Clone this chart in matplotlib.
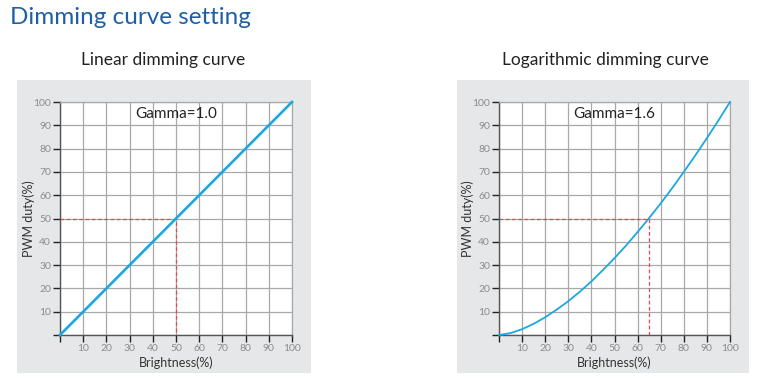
import matplotlib.pyplot as plt
from matplotlib.patches import Rectangle

# brightness (%) vs PWM duty (%)
lin_x = [0, 100]
lin_y = [0, 100]

log_x = [0, 5, 10, 15, 20, 25, 30, 35, 40, 45, 50, 55, 60, 65, 70, 75, 80, 85, 90, 95, 100]
log_y = [0, 0.8, 2.5, 4.8, 7.6, 10.9, 14.5, 18.6, 23, 27.9, 33, 38.4, 44.2, 50.2, 56.5, 63.1, 70, 77.1, 84.5, 92.1, 100]

ticks = [0, 10, 20, 30, 40, 50, 60, 70, 80, 90, 100]
tick_labels = [""] + [str(t) for t in ticks[1:]]

plt.rcParams['font.family'] = ['Lato', 'DejaVu Sans']

W, H = 771, 383
fig = plt.figure(figsize=(W / 100, H / 100), dpi=100)


def px_rect(x0, y0, x1, y1):
    return [x0 / W, (H - y1) / H, (x1 - x0) / W, (y1 - y0) / H]


# gray panels behind each chart
for x0, x1 in [(17, 311), (457, 749)]:
    r = px_rect(x0, 80, x1, 373)
    fig.patches.append(Rectangle((r[0], r[1]), r[2], r[3], transform=fig.transFigure,
                                 facecolor="#e6e7e8", edgecolor="none", zorder=-5))

fig.text(10 / W, 1 - 18 / H, "Dimming curve setting", color="#1f5fa6", fontsize=17.5,
         ha="left", va="center")
fig.text(163 / W, 1 - 60 / H, "Linear dimming curve", color="#222222", fontsize=12.5,
         ha="center", va="center")
fig.text(605 / W, 1 - 60 / H, "Logarithmic dimming curve", color="#222222", fontsize=12.5,
         ha="center", va="center")


def draw(ax, xs, ys, gamma, x_mark, lw):
    ax.set_xlim(0, 100)
    ax.set_ylim(0, 100)
    ax.set_xticks(ticks)
    ax.set_yticks(ticks)
    ax.set_xticklabels(tick_labels)
    ax.set_yticklabels(tick_labels)
    ax.grid(True, color="#a8a8a8", lw=0.9)
    ax.set_axisbelow(True)
    ax.tick_params(direction="out", length=5, width=1, color="#222222",
                   labelsize=7.5, labelcolor="#8c8c8c", pad=1.5)
    for s in ["top", "right"]:
        ax.spines[s].set_color("#a8a8a8")
        ax.spines[s].set_linewidth(0.9)
    for s in ["left", "bottom"]:
        ax.spines[s].set_color("#555555")
        ax.spines[s].set_linewidth(1.0)

    ax.plot([0, x_mark, x_mark], [50, 50, 0], color="#e8474d", lw=0.9, ls=(0, (3, 2)), zorder=2)
    ax.plot(xs, ys, color="#1ba8e2", lw=lw, zorder=3, clip_on=False)
    ax.text(50, 95, "Gamma=" + gamma, ha="center", va="center", fontsize=11, color="#222222")
    ax.set_xlabel("Brightness(%)", fontsize=9, color="#333333")
    ax.set_ylabel("PWM duty(%)", fontsize=9, color="#333333")
    ax.xaxis.set_label_coords(0.5, -28 / 233, transform=ax.transAxes)
    ax.yaxis.set_label_coords(-31 / 232, 0.5, transform=ax.transAxes)
    ax.xaxis.label.set_va("center")
    ax.yaxis.label.set_va("center")


ax1 = fig.add_axes(px_rect(60, 102, 292, 335))
draw(ax1, lin_x, lin_y, "1.0", 50, 1.9)

ax2 = fig.add_axes(px_rect(499, 102, 730, 335))
draw(ax2, log_x, log_y, "1.6", 65, 1.3)

fig.savefig("out.png", dpi=100)
